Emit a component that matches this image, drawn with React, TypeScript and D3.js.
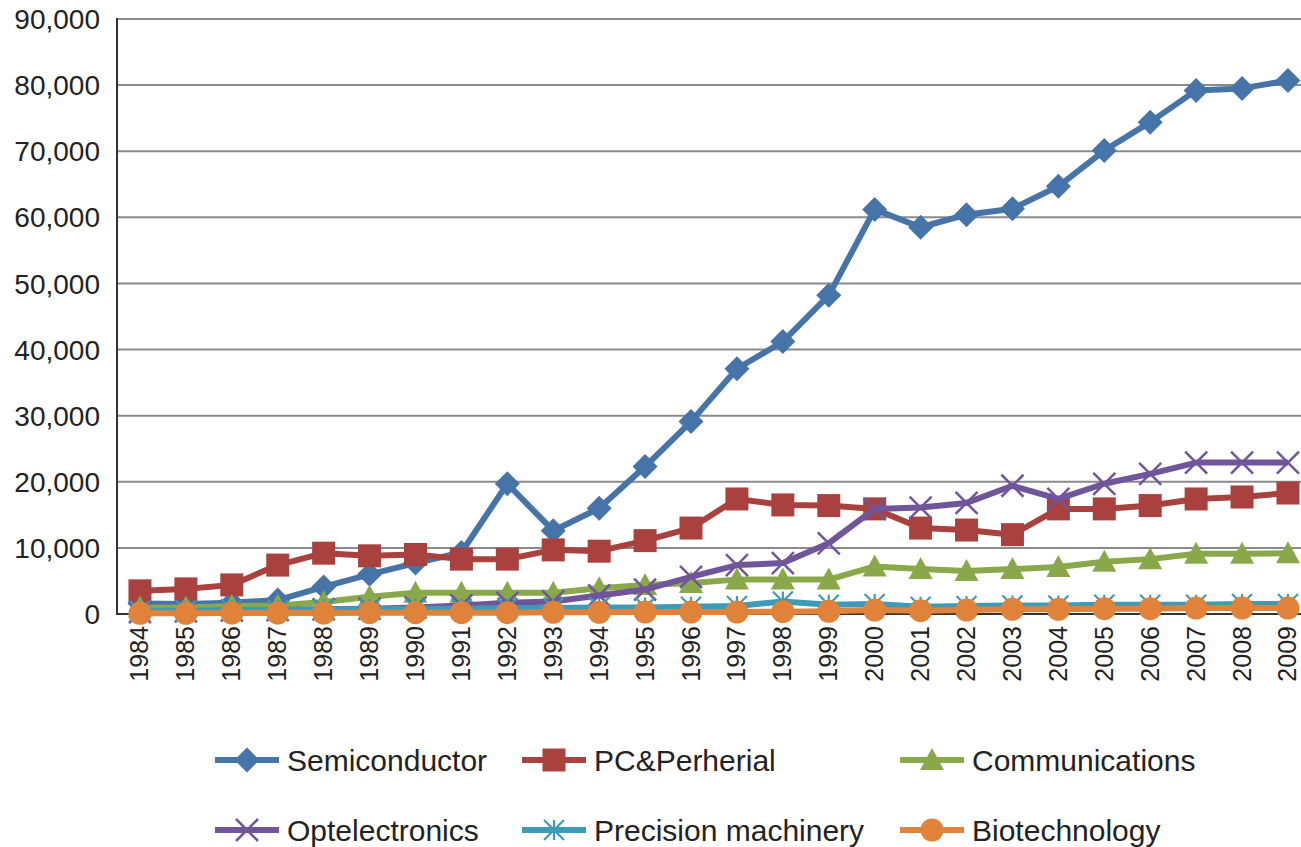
import React from "react";
import * as d3 from "d3";

const years = ["1984","1985","1986","1987","1988","1989","1990","1991","1992","1993","1994","1995","1996","1997","1998","1999","2000","2001","2002","2003","2004","2005","2006","2007","2008","2009"];

const semiconductor = [1600,1500,1700,2100,4100,6000,7700,9300,19700,12600,16000,22300,29100,37100,41200,48200,61200,58500,60400,61300,64700,70100,74400,79200,79500,80700];
const pcPeripheral = [3500,3800,4400,7400,9200,8800,9000,8300,8300,9700,9500,11100,13000,17400,16500,16400,15900,13000,12700,12000,15900,15900,16400,17400,17700,18300];
const communications = [1000,1000,1200,1300,1800,2600,3200,3200,3200,3200,3900,4400,4700,5200,5200,5200,7200,6800,6500,6800,7100,7900,8300,9100,9100,9200];
const optelectronics = [300,400,500,600,700,800,1000,1300,1700,1900,2800,3700,5600,7400,7700,10700,15900,16100,16800,19400,17400,19700,21200,22900,22900,22900];
const precision = [500,500,600,600,700,700,800,800,900,900,1000,1000,1100,1200,1900,1400,1500,1100,1200,1300,1300,1400,1400,1400,1500,1500];
const biotech = [100,100,150,150,150,200,200,200,200,250,250,300,300,300,350,400,600,500,600,700,700,800,800,900,900,900];

const yTicks = [0,10000,20000,30000,40000,50000,60000,70000,80000,90000];

const seriesNames = ["Semiconductor","PC&Perherial","Communications","Optelectronics","Precision machinery","Biotechnology"];
const seriesValues = [semiconductor, pcPeripheral, communications, optelectronics, precision, biotech];
const seriesColors = ["#4673A8","#A9413F","#88A84A","#71559A","#3D9BB7","#E0823A"];
const seriesMarkers = ["diamond","square","triangle","x","asterisk","circle"];

const W = 1301, H = 847;
const plotLeft = 117, plotTop = 19, plotBottom = 614;
const band = 45.92;

function Marker({ type, x, y, color }: { type: string; x: number; y: number; color: string }) {
  const s = 12.5;
  if (type === "diamond") {
    return <path d={`M${x},${y - s}L${x + s},${y}L${x},${y + s}L${x - s},${y}Z`} fill={color} />;
  }
  if (type === "square") {
    return <rect x={x - 11.5} y={y - 11.5} width={23} height={23} fill={color} />;
  }
  if (type === "triangle") {
    return <path d={`M${x},${y - 12}L${x + 12},${y + 10}L${x - 12},${y + 10}Z`} fill={color} />;
  }
  if (type === "circle") {
    return <circle cx={x} cy={y} r={11.5} fill={color} />;
  }
  if (type === "x") {
    const r = 11;
    return <path d={`M${x - r},${y - r}L${x + r},${y + r}M${x - r},${y + r}L${x + r},${y - r}`} stroke={color} strokeWidth={2.5} fill="none" />;
  }
  const r = 10;
  return (
    <path
      d={`M${x - r},${y - r}L${x + r},${y + r}M${x - r},${y + r}L${x + r},${y - r}M${x},${y - r}L${x},${y + r}`}
      stroke={color}
      strokeWidth={2.2}
      fill="none"
    />
  );
}

export default function App() {
  const x = d3
    .scaleBand<string>()
    .domain(years)
    .range([plotLeft, plotLeft + band * years.length])
    .padding(0);
  const cx = (yr: string) => (x(yr) as number) + x.bandwidth() / 2;
  const y = d3.scaleLinear().domain([0, 90000]).range([plotBottom, plotTop]);
  const line = d3
    .line<number>()
    .x((_, i) => cx(years[i]))
    .y((d) => y(d))
    .curve(d3.curveLinear);

  const font = "'Liberation Sans', Arial, Helvetica, sans-serif";

  const legendCols = [215, 522, 900];
  const legendRows = [760, 830];

  return (
    <svg
      width={W}
      height={H}
      style={{ position: "absolute", left: 0, top: 0, background: "#fff" }}
      fontFamily={font}
    >
      <rect x={0} y={0} width={W} height={H} fill="#fff" />
      {yTicks.map((t) => (
        <g key={t}>
          {t > 0 && (
            <line x1={plotLeft} x2={W} y1={y(t)} y2={y(t)} stroke="#8a8a8a" strokeWidth={2} />
          )}
          <text
            x={100}
            y={y(t)}
            dy="0.36em"
            textAnchor="end"
            fontSize={28}
            fill="#222"
          >
            {d3.format(",")(t)}
          </text>
        </g>
      ))}
      <line x1={plotLeft} x2={plotLeft} y1={plotTop - 1} y2={plotBottom + 1} stroke="#333" strokeWidth={2} />
      <line x1={plotLeft - 1} x2={W} y1={plotBottom} y2={plotBottom} stroke="#333" strokeWidth={2} />

      {years.map((yr) => (
        <text
          key={yr}
          transform={`translate(${cx(yr)},${626}) rotate(-90)`}
          textAnchor="end"
          dy="0.34em"
          fontSize={25}
          fill="#222"
        >
          {yr}
        </text>
      ))}

      {seriesValues.map((vals, si) => (
        <g key={seriesNames[si]}>
          <path d={line(vals) || ""} fill="none" stroke={seriesColors[si]} strokeWidth={6} strokeLinejoin="round" />
          {vals.map((v, i) => (
            <Marker key={i} type={seriesMarkers[si]} x={cx(years[i])} y={y(v)} color={seriesColors[si]} />
          ))}
        </g>
      ))}

      {seriesNames.map((name, si) => {
        const lx = legendCols[si % 3];
        const ly = legendRows[Math.floor(si / 3)];
        return (
          <g key={name}>
            <line x1={lx} x2={lx + 64} y1={ly} y2={ly} stroke={seriesColors[si]} strokeWidth={6} />
            <Marker type={seriesMarkers[si]} x={lx + 32} y={ly} color={seriesColors[si]} />
            <text x={lx + 72} y={ly} dy="0.36em" fontSize={30} fill="#222">
              {name}
            </text>
          </g>
        );
      })}
    </svg>
  );
}
